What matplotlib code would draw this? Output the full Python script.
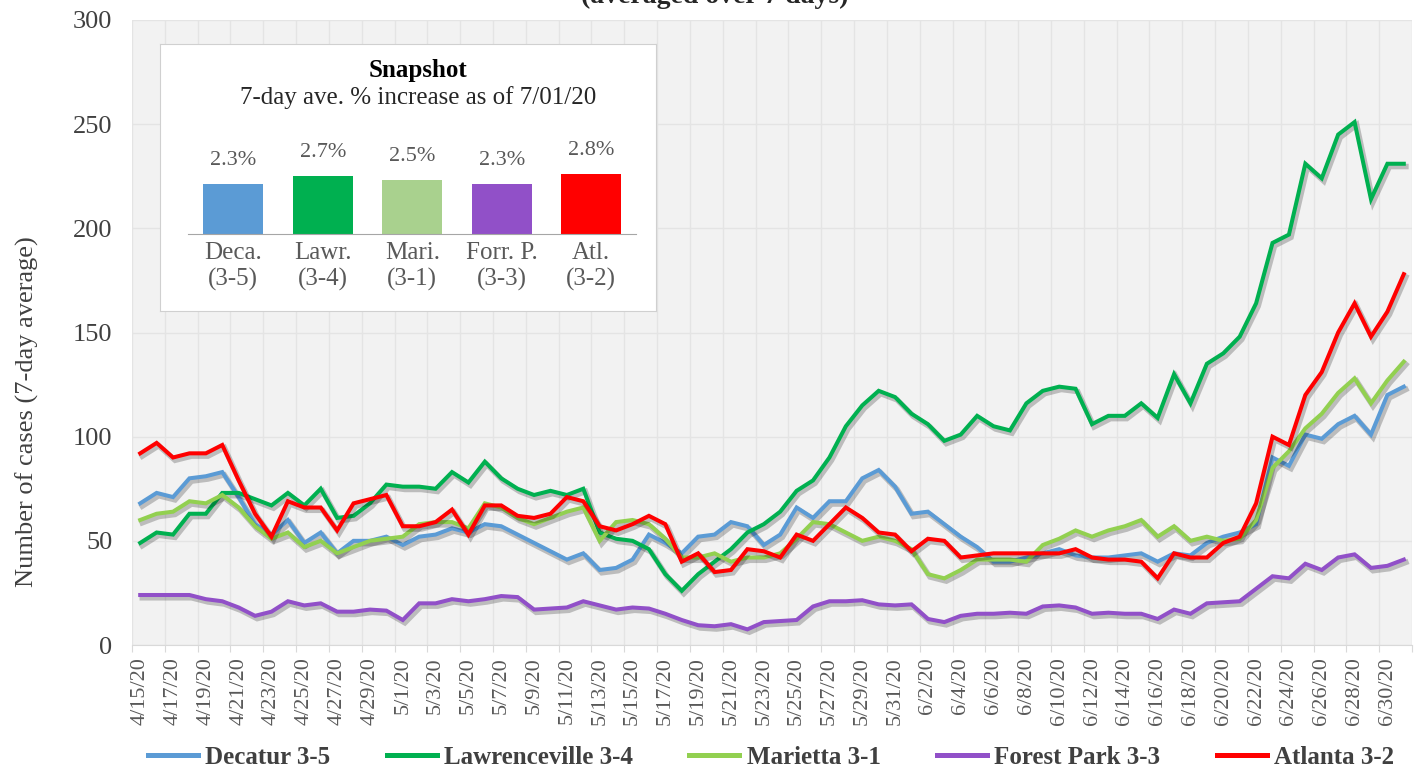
import numpy as np
import pandas as pd
import matplotlib
matplotlib.use('Agg')
import matplotlib.pyplot as plt
import matplotlib.patheffects as pe

# datos: promedio de 7 dias de casos por zona
fechas = pd.date_range('2020-04-15', '2020-07-01')

decatur = [68, 73, 71, 80, 81, 83, 71, 58, 53, 60,
           49, 54, 44, 50, 50, 52, 48, 52, 53, 56,
           54, 58, 57, 53, 49, 45, 41, 44, 36, 37,
           41, 53, 49, 44, 52, 53, 59, 57, 48, 53,
           66, 61, 69, 69, 80, 84, 76, 63, 64, 58,
           52, 47, 40, 40, 42, 44, 46, 43, 42, 42,
           43, 44, 40, 44, 43, 49, 52, 54, 58, 90,
           86, 101, 99, 106, 110, 101, 120, 124]

lawrenceville = [49, 54, 53, 63, 63, 73, 73, 70, 67, 73,
                 67, 75, 61, 62, 68, 77, 76, 76, 75, 83,
                 78, 88, 80, 75, 72, 74, 72, 75, 54, 51,
                 50, 46, 34, 26, 34, 40, 46, 54, 58, 64,
                 74, 79, 90, 105, 115, 122, 119, 111, 106, 98,
                 101, 110, 105, 103, 116, 122, 124, 123, 106, 110,
                 110, 116, 109, 130, 116, 135, 140, 148, 164, 193,
                 197, 231, 224, 245, 251, 214, 231, 231]

marietta = [60, 63, 64, 69, 68, 72, 66, 57, 51, 54,
            47, 50, 44, 47, 50, 51, 52, 58, 59, 59,
            56, 68, 66, 61, 58, 61, 64, 66, 50, 59,
            60, 58, 51, 42, 42, 44, 40, 42, 42, 44,
            51, 59, 58, 54, 50, 52, 50, 46, 34, 32,
            36, 41, 41, 41, 40, 48, 51, 55, 52, 55,
            57, 60, 52, 57, 50, 52, 50, 51, 60, 85,
            93, 104, 111, 121, 128, 116, 127, 136]

forest_park = [24, 24, 24, 24, 22, 21, 18, 14, 16, 21,
               19, 20, 16, 16, 17, 16.5, 12, 20, 20, 22,
               21, 22, 23.5, 23, 17, 17.5, 18, 21, 19, 17,
               18, 17.5, 15, 12, 9.5, 9, 10, 7.5, 11, 11.5,
               12, 18.5, 21, 21, 21.5, 19.5, 19, 19.5, 12.5, 11,
               14, 15, 15, 15.5, 15, 18.5, 19, 18, 15, 15.5,
               15, 15, 12.5, 17, 15, 20, 20.5, 21, 27, 33,
               32, 39, 36, 42, 43.5, 37, 38, 41]

atlanta = [92, 97, 90, 92, 92, 96, 79, 63, 52, 69,
           66, 66, 55, 68, 70, 72, 57, 57, 59, 65,
           53, 67, 67, 62, 61, 63, 71, 69, 57, 55,
           58, 62, 58, 40, 44, 35, 36, 46, 45, 42,
           53, 50, 58, 66, 61, 54, 53, 45, 51, 50,
           42, 43, 44, 44, 44, 44, 44, 46, 42, 41,
           41, 40, 32, 44, 42, 42, 49, 52, 68, 100,
           96, 120, 131, 150, 164, 148, 160, 178]

series = ['Decatur 3-5', 'Lawrenceville 3-4', 'Marietta 3-1', 'Forest Park 3-3', 'Atlanta 3-2']
colores = ['#5B9BD5', '#00B050', '#92D050', '#9150C8', '#FF0000']

# recuadro "Snapshot"
snap_etiquetas = ['Deca.\n(3-5)', 'Lawr.\n(3-4)', 'Mari.\n(3-1)', 'Forr. P.\n(3-3)', 'Atl.\n(3-2)']
snap_valores = [2.3, 2.7, 2.5, 2.3, 2.8]
snap_colores = ['#5B9BD5', '#00B050', '#A9D18E', '#9150C8', '#FF0000']

plt.rcParams['font.family'] = ['Liberation Serif', 'DejaVu Serif']
gris = '#404040'

fig = plt.figure(figsize=(14.18, 7.7), dpi=100)
ax = fig.add_axes([132 / 1418, 1 - 645 / 770, 1280 / 1418, 625 / 770])
ax.set_facecolor('#F2F2F2')

x = np.arange(len(fechas))
sombra = [pe.SimpleLineShadow(offset=(1.5, -2), shadow_color='k', alpha=0.22, linewidth=4), pe.Normal()]
for datos, nombre, color in zip([decatur, lawrenceville, marietta, forest_park, atlanta], series, colores):
    ax.plot(x, datos, color=color, lw=2.9, label=nombre, solid_joinstyle='miter',
            path_effects=sombra, zorder=3)

ax.set_xlim(-0.5, len(fechas) - 0.5)
ax.set_ylim(0, 300)
ax.set_yticks(range(0, 301, 50))
ax.tick_params(axis='y', length=0, labelsize=19, labelcolor=gris, pad=14)

# marcas entre categorias, etiquetas cada 2 dias
ax.set_xticks(np.arange(-0.5, len(fechas), 2))
ax.set_xticklabels([])
ax.set_xticks(x[::2], minor=True)
ax.set_xticklabels([f'{d.month}/{d.day}/20' for d in fechas[::2]], minor=True, rotation=90)
ax.tick_params(axis='x', which='major', length=5, color='#D9D9D9')
ax.tick_params(axis='x', which='minor', length=0, labelsize=16, labelcolor='#595959', pad=9)

ax.grid(which='major', color='#E4E4E4', lw=1)
ax.set_axisbelow(True)
for lado in ['top', 'right', 'left']:
    ax.spines[lado].set_visible(False)
ax.spines['bottom'].set_color('#D9D9D9')

ax.set_ylabel('Number of cases (7-day average)', fontsize=19, color=gris)
ax.yaxis.set_label_coords(-0.073, 0.374)

fig.text(0.504, 1 - 3 / 770, '(averaged over 7 days)', ha='center', va='baseline',
         fontsize=20, fontweight='bold', color='#262626')

leg = fig.legend(loc='center', bbox_to_anchor=(771 / 1418, 1 - 757 / 770), ncol=5, frameon=False,
                 prop={'size': 18, 'weight': 'bold'}, handlelength=2.0, handletextpad=0.3,
                 columnspacing=2.25)
for linea in leg.get_lines():
    linea.set_linewidth(3.6)
    linea.set_path_effects([])
for t in leg.get_texts():
    t.set_color(gris)

# inset
caja = fig.add_axes([160 / 1418, 1 - 311 / 770, 496 / 1418, 267 / 770])
caja.set_facecolor('white')
caja.set_xticks([])
caja.set_yticks([])
for s in caja.spines.values():
    s.set_color('#D0D0D0')
caja.text(0.52, 1 - 26 / 267, 'Snapshot', ha='center', va='center', fontsize=18,
          fontweight='bold', color='black', transform=caja.transAxes)
caja.text(0.52, 1 - 54 / 267, '7-day ave. % increase as of 7/01/20', ha='center', va='center',
          fontsize=18, color='#262626', transform=caja.transAxes)

barras = fig.add_axes([188.5 / 1418, 1 - 234 / 770, 447.5 / 1418, 86.4 / 770])
barras.patch.set_alpha(0)
pos = np.arange(len(snap_valores))
b = barras.bar(pos, snap_valores, width=0.67, color=snap_colores)
barras.set_xlim(-0.5, len(snap_valores) - 0.5)
barras.set_ylim(0, 4)
for rect, v in zip(b, snap_valores):
    barras.annotate(f'{v:.1f}%', (rect.get_x() + rect.get_width() / 2, v), xytext=(0, 10),
                    textcoords='offset points', ha='center', va='bottom', fontsize=16, color='#595959')
barras.set_yticks([])
barras.set_xticks(pos)
barras.set_xticklabels(snap_etiquetas, fontsize=18, color='#595959', linespacing=1.2)
barras.tick_params(axis='x', length=0, pad=6)
for lado in ['top', 'right', 'left']:
    barras.spines[lado].set_visible(False)
barras.spines['bottom'].set_color('#A6A6A6')

plt.savefig('out.png', dpi=100)
